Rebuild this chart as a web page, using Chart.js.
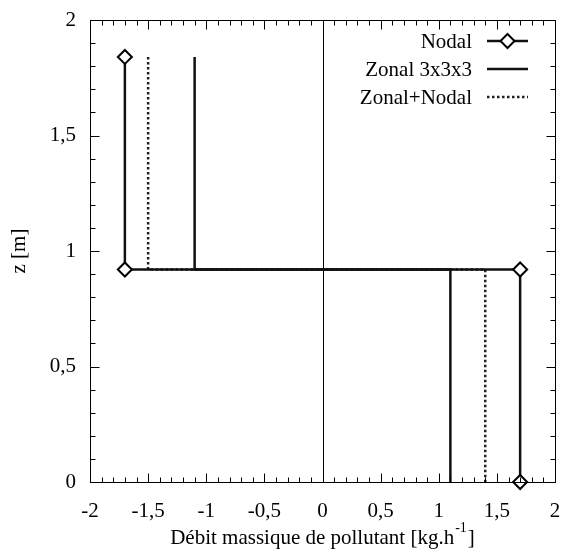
<!DOCTYPE html>
<html>
<head>
<meta charset="utf-8">
<script src="https://cdn.jsdelivr.net/npm/chart.js@4.4.0/dist/chart.umd.min.js"></script>
<style>
  html, body { margin: 0; padding: 0; background: #fff; }
  #wrap { width: 564px; height: 552px; }
</style>
</head>
<body>
<div id="wrap"><canvas id="myChart" width="564" height="552"></canvas></div>
<script>
// profile levels (z in m)
const zLevels = [1.84, 0.92, 0.92, 0];

// flow rates at each level (kg/h)
const nodalX = [-1.7, -1.7, 1.7, 1.7];
const zonalX = [-1.1, -1.1, 1.1, 1.1];
const zonalNodalX = [-1.5, -1.5, 1.4, 1.4];

const xTicks = [-2, -1.5, -1, -0.5, 0, 0.5, 1, 1.5, 2];
const yTicks = [0, 0.5, 1, 1.5, 2];

const FONT = "'Liberation Serif', 'DejaVu Serif', serif";

const toPoints = (xs) => xs.map((x, i) => ({ x: x, y: zLevels[i] }));
const fmt = (v) => String(v).replace(".", ",");

// frame, inward ticks, zero axis, legend and titles (gnuplot look)
const gnuplotFrame = {
  id: "gnuplotFrame",
  beforeDatasetsDraw(chart) {
    const { ctx, chartArea: a, scales } = chart;
    ctx.save();
    ctx.strokeStyle = "#000";
    ctx.lineWidth = 1;
    const x0 = Math.round(scales.x.getPixelForValue(0)) + 0.5;
    ctx.beginPath();
    ctx.moveTo(x0, a.top);
    ctx.lineTo(x0, a.bottom);
    ctx.stroke();
    ctx.restore();
  },
  afterDraw(chart) {
    const { ctx, chartArea: a, scales } = chart;
    ctx.save();
    ctx.strokeStyle = "#000";
    ctx.lineWidth = 1;
    const L = Math.round(a.left) + 0.5, R = Math.round(a.right) + 0.5;
    const T = Math.round(a.top) + 0.5, B = Math.round(a.bottom) + 0.5;
    ctx.strokeRect(L, T, R - L, B - T);

    ctx.beginPath();
    for (let i = -20; i <= 20; i++) {
      const v = i / 10;
      const px = Math.round(scales.x.getPixelForValue(v)) + 0.5;
      const len = i % 5 === 0 ? 9 : 5;
      ctx.moveTo(px, B); ctx.lineTo(px, B - len);
      ctx.moveTo(px, T); ctx.lineTo(px, T + len);
    }
    for (let i = 0; i <= 20; i++) {
      const v = i / 10;
      const py = Math.round(scales.y.getPixelForValue(v)) + 0.5;
      const len = i % 5 === 0 ? 9 : 5;
      ctx.moveTo(L, py); ctx.lineTo(L + len, py);
      ctx.moveTo(R, py); ctx.lineTo(R - len, py);
    }
    ctx.stroke();

    // axis titles
    ctx.fillStyle = "#000";
    ctx.textBaseline = "middle";
    const main = "Débit massique de pollutant [kg.h";
    const sup = "-1";
    const close = "]";
    ctx.font = "21px " + FONT;
    const wMain = ctx.measureText(main).width;
    const wClose = ctx.measureText(close).width;
    ctx.font = "14px " + FONT;
    const wSup = ctx.measureText(sup).width;
    const total = wMain + wSup + wClose + 2;
    const tx = (a.left + a.right) / 2 - total / 2;
    const ty = 538;
    ctx.textAlign = "left";
    ctx.font = "21px " + FONT;
    ctx.fillText(main, tx, ty);
    ctx.font = "14px " + FONT;
    ctx.fillText(sup, tx + wMain + 1, ty - 10);
    ctx.font = "21px " + FONT;
    ctx.fillText(close, tx + wMain + wSup + 2, ty);

    ctx.save();
    ctx.translate(19, (a.top + a.bottom) / 2);
    ctx.rotate(-Math.PI / 2);
    ctx.textAlign = "center";
    ctx.fillText("z [m]", 0, 0);
    ctx.restore();

    // legend
    const rows = chart.data.datasets.map((d, i) => ({ d, y: 41 + i * 28 }));
    ctx.font = "21px " + FONT;
    ctx.textAlign = "right";
    rows.forEach(({ d, y }) => {
      ctx.fillStyle = "#000";
      ctx.fillText(d.label, 472, y + 1);
      ctx.save();
      ctx.strokeStyle = d.borderColor;
      ctx.lineWidth = d.borderWidth;
      ctx.setLineDash(d.borderDash || []);
      ctx.beginPath();
      ctx.moveTo(487, y);
      ctx.lineTo(528, y);
      ctx.stroke();
      ctx.restore();
      if (d.pointRadius > 0) {
        ctx.save();
        ctx.fillStyle = "#fff";
        ctx.strokeStyle = "#000";
        ctx.lineWidth = 2;
        const r = d.pointRadius;
        ctx.beginPath();
        ctx.moveTo(507.5, y - r); ctx.lineTo(507.5 + r, y);
        ctx.lineTo(507.5, y + r); ctx.lineTo(507.5 - r, y);
        ctx.closePath();
        ctx.fill(); ctx.stroke();
        ctx.restore();
      }
    });
    ctx.restore();
  }
};

const ctx = document.getElementById("myChart").getContext("2d");

const myChart = new Chart(ctx, {
  type: "scatter",
  data: {
    datasets: [
      {
        label: "Nodal",
        data: toPoints(nodalX),
        showLine: true,
        clip: false,
        borderColor: "#111",
        borderWidth: 2.5,
        pointStyle: "rectRot",
        pointRadius: 7,
        pointBorderWidth: 2,
        pointBackgroundColor: "#fff",
        pointBorderColor: "#000",
      },
      {
        label: "Zonal 3x3x3",
        data: toPoints(zonalX),
        showLine: true,
        borderColor: "#111",
        borderWidth: 2.5,
        pointRadius: 0,
      },
      {
        label: "Zonal+Nodal",
        data: toPoints(zonalNodalX),
        showLine: true,
        borderColor: "#222",
        borderWidth: 2.5,
        borderDash: [2.5, 2.5],
        pointRadius: 0,
      },
    ],
  },
  plugins: [gnuplotFrame],
  options: {
    responsive: false,
    animation: false,
    events: [],
    layout: { padding: { top: 20, right: 9, left: 0, bottom: 0 } },
    scales: {
      x: {
        type: "linear",
        min: -2,
        max: 2,
        afterBuildTicks: (s) => { s.ticks = xTicks.map((v) => ({ value: v })); },
        afterFit: (s) => { s.height = 70; s.paddingLeft = 0; s.paddingRight = 0; },
        grid: { display: false, drawTicks: false },
        border: { display: false },
        ticks: {
          padding: 17,
          color: "#000",
          font: { family: FONT, size: 21 },
          callback: (v) => fmt(v),
          maxRotation: 0,
          autoSkip: false,
        },
      },
      y: {
        type: "linear",
        min: 0,
        max: 2,
        afterBuildTicks: (s) => { s.ticks = yTicks.map((v) => ({ value: v })); },
        afterFit: (s) => { s.width = 90; s.paddingTop = 0; s.paddingBottom = 0; },
        grid: { display: false, drawTicks: false },
        border: { display: false },
        ticks: {
          padding: 14,
          color: "#000",
          font: { family: FONT, size: 21 },
          callback: (v) => fmt(v),
          autoSkip: false,
        },
      },
    },
    plugins: {
      legend: { display: false },
      tooltip: { enabled: false },
    },
  },
});
</script>
</body>
</html>
